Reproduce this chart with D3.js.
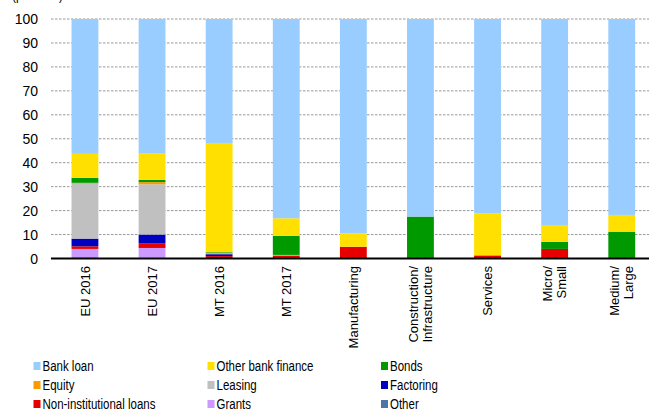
<!DOCTYPE html>
<html><head><meta charset="utf-8">
<script src="https://cdn.jsdelivr.net/npm/d3@7"></script>
<style>body{margin:0;background:#fff}svg{display:block}text{font-family:"Liberation Sans",Arial,sans-serif;fill:#000}</style>
</head><body><svg id="c" width="649" height="409"></svg>
<script>
const categories = ["EU 2016","EU 2017","MT 2016","MT 2017","Manufacturing","Construction/\nInfrastructure","Services","Micro/\nSmall","Medium/\nLarge"];
const seriesNames = ["Other","Grants","Non-institutional loans","Factoring","Leasing","Equity","Bonds","Other bank finance","Bank loan"];
const other        = [0.5, 0.2, 0.0, 0.0, 0.0, 0.0, 0.0, 0.0, 0.0];
const grants       = [3.5, 4.2, 0.0, 0.0, 0.0, 0.0, 0.0, 0.0, 0.0];
const nonInst      = [1.1, 2.0, 1.0, 1.2, 4.9, 0.0, 1.3, 4.0, 0.0];
const factoring    = [3.2, 3.6, 0.8, 0.0, 0.0, 0.0, 0.0, 0.0, 0.0];
const leasing      = [22.9, 21.0, 0.4, 0.0, 0.0, 0.0, 0.0, 0.0, 0.0];
const equity       = [0.4, 0.9, 0.0, 0.3, 0.0, 0.0, 0.0, 0.0, 0.0];
const bonds        = [2.1, 0.9, 0.4, 8.0, 0.0, 17.5, 0.0, 3.0, 11.2];
const otherBank    = [10.0, 11.2, 45.6, 7.3, 5.6, 0.0, 17.6, 7.0, 7.0];
const bankLoan     = [56.3, 56.0, 51.8, 83.2, 89.5, 82.5, 81.1, 86.0, 81.8];
const yTicks = [0,10,20,30,40,50,60,70,80,90,100];
const legendOrder = ["Bank loan","Other bank finance","Bonds","Equity","Leasing","Factoring","Non-institutional loans","Grants","Other"];

const colors = {"Bank loan":"#99CCFF","Other bank finance":"#FFE000","Bonds":"#009900","Equity":"#FF9900","Leasing":"#C0C0C0","Factoring":"#0000C0","Non-institutional loans":"#E60000","Grants":"#CC99FF","Other":"#4A76A8"};
const valuesBySeries = [other,grants,nonInst,factoring,leasing,equity,bonds,otherBank,bankLoan];

const rows = categories.map((c,i)=>{const r={cat:c}; seriesNames.forEach((s,j)=>r[s]=valuesBySeries[j][i]); return r;});
const stack = d3.stack().keys(seriesNames)(rows);

const svg = d3.select("#c");
const x = d3.scaleBand().domain(categories).range([51.4,655.3]).paddingInner(0.6).paddingOuter(0.3);
const y = d3.scaleLinear().domain([0,100]).range([258.5,19]);

// grid
svg.append("g").selectAll("line").data(yTicks.filter(d=>d>0)).join("line")
  .attr("x1",51).attr("x2",649).attr("y1",d=>y(d)).attr("y2",d=>y(d))
  .attr("stroke","#999").attr("stroke-width",1).attr("stroke-dasharray","2.5,1.5");

// y labels
svg.append("g").selectAll("text").data(yTicks).join("text")
  .attr("x",38).attr("y",d=>y(d)).attr("dy","0.36em").attr("text-anchor","end")
  .style("font-size","14px").text(d=>d);

// bars
svg.append("g").selectAll("g").data(stack).join("g").attr("fill",d=>colors[d.key])
  .selectAll("rect").data(d=>d).join("rect")
  .attr("x",d=>x(d.data.cat)).attr("width",x.bandwidth())
  .attr("y",d=>y(d[1])).attr("height",d=>Math.max(0,y(d[0])-y(d[1])));

// baseline
svg.append("line").attr("x1",51).attr("x2",649).attr("y1",y(0)).attr("y2",y(0)).attr("stroke","#000").attr("stroke-width",2);

// x labels
const xl = svg.append("g").selectAll("text").data(categories).join("text")
  .attr("transform",d=>`translate(${x(d)+x.bandwidth()/2},266) rotate(-90)`)
  .attr("text-anchor","end").style("font-size","13px");
xl.each(function(d){
  const lines = d.split("\n"); const t=d3.select(this);
  lines.forEach((l,i)=>{
    t.append("tspan").attr("x",0).attr("y",(i-(lines.length-1)/2)*14).attr("dy","0.36em").text(l);
  });
});

// top label
svg.append("text").attr("transform","translate(12,0) scale(0.85,1)").style("font-size","14px").text("(per cent)");

// legend
const colX = [33.5,207.5,381];
const lg = svg.append("g").selectAll("g").data(legendOrder).join("g")
  .attr("transform",(d,i)=>`translate(${colX[i%3]},${366+Math.floor(i/3)*19})`);
lg.append("rect").attr("x",0).attr("y",-4).attr("width",7).attr("height",8).attr("fill",d=>colors[d]);
lg.append("text").attr("transform","translate(9,5) scale(0.82,1)").style("font-size","14px").text(d=>d);
</script></body></html>
